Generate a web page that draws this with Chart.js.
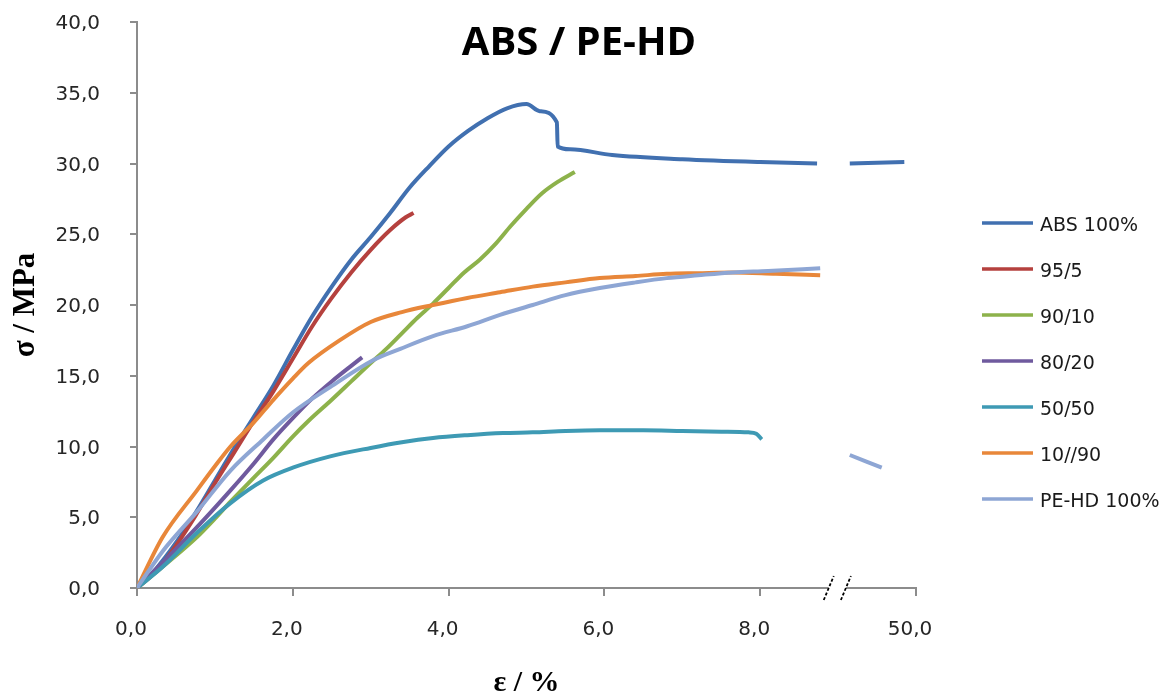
<!DOCTYPE html>
<html>
<head>
<meta charset="utf-8">
<title>ABS / PE-HD</title>
<script src="https://cdn.jsdelivr.net/npm/chart.js@4"></script>
<style>
  html, body { margin: 0; padding: 0; background: #fff; }
  canvas { display: block; }
</style>
</head>
<body>
<canvas id="stressChart" width="1172" height="696"></canvas>
<script>
const chartTitle = 'ABS / PE-HD';
const seriesNames = ['ABS 100%', '95/5', '90/10', '80/20', '50/50', '10//90', 'PE-HD 100%'];
const seriesColors = ['#4170b0', '#b5413e', '#8db24b', '#6f5a9e', '#3e9ab4', '#e8873a', '#8ea6d4'];

// strain (linear units, 10 = the "50,0" tick after the axis break) / stress in MPa
const absX = [0, 0.25, 0.5, 0.75, 1.0, 1.25, 1.5, 1.75, 2.0, 2.25, 2.5, 2.75, 3.0, 3.25, 3.5, 3.75, 4.0, 4.25, 4.5, 4.75, 5.0, 5.17, 5.39, 5.40, 5.56, 6.1, 7.0, 8.0, 8.73, 8.95, 9.15, 9.85];
const absY = [0, 1.4, 3.2, 5.3, 7.6, 9.9, 12.1, 14.3, 16.8, 19.2, 21.3, 23.2, 24.8, 26.5, 28.3, 29.8, 31.2, 32.3, 33.2, 33.9, 34.2, 33.7, 32.9, 31.2, 31.0, 30.6, 30.3, 30.1, 30.0, null, 30.0, 30.1];

const b95X = [0, 0.25, 0.5, 0.75, 1.0, 1.25, 1.5, 1.75, 2.0, 2.25, 2.5, 2.75, 3.0, 3.25, 3.45, 3.55];
const b95Y = [0, 1.2, 3.0, 5.1, 7.4, 9.6, 11.8, 13.9, 16.2, 18.5, 20.5, 22.3, 23.9, 25.3, 26.2, 26.5];

const b90X = [0, 0.33, 0.77, 1.0, 1.2, 1.5, 1.75, 2.0, 2.2, 2.5, 2.75, 3.0, 3.2, 3.4, 3.6, 3.8, 4.0, 4.2, 4.4, 4.6, 4.8, 5.0, 5.2, 5.4, 5.62];
const b90Y = [0, 1.5, 3.6, 4.9, 6.1, 7.8, 9.2, 10.7, 11.8, 13.3, 14.6, 15.9, 16.9, 18.0, 19.1, 20.1, 21.2, 22.3, 23.2, 24.3, 25.6, 26.8, 27.9, 28.7, 29.4];

const b80X = [0, 0.33, 0.77, 1.2, 1.5, 1.75, 2.0, 2.25, 2.5, 2.75, 2.89];
const b80Y = [0, 1.8, 4.3, 6.9, 8.8, 10.5, 12.0, 13.4, 14.6, 15.7, 16.3];

const b50X = [0, 0.33, 0.77, 1.2, 1.62, 2.0, 2.48, 3.0, 3.4, 3.8, 4.24, 4.7, 5.08, 5.5, 5.94, 6.5, 7.0, 7.5, 7.85, 7.95, 8.02];
const b50Y = [0, 1.5, 3.9, 6.0, 7.6, 8.5, 9.3, 9.9, 10.3, 10.6, 10.8, 10.95, 11.0, 11.1, 11.15, 11.15, 11.1, 11.05, 11.0, 10.9, 10.5];

const b10X = [0, 0.33, 0.77, 1.0, 1.2, 1.5, 1.75, 2.0, 2.2, 2.6, 3.0, 3.4, 3.8, 4.24, 4.66, 5.08, 5.5, 5.94, 6.4, 6.8, 7.2, 7.65, 8.2, 8.77];
const b10Y = [0, 3.6, 6.9, 8.6, 10.0, 11.7, 13.3, 14.8, 15.9, 17.5, 18.8, 19.5, 20.0, 20.5, 20.9, 21.3, 21.6, 21.9, 22.05, 22.2, 22.25, 22.3, 22.2, 22.1];

const peX = [0, 0.33, 0.77, 1.2, 1.62, 2.0, 2.48, 3.03, 3.38, 3.8, 4.24, 4.66, 5.08, 5.5, 5.94, 6.4, 6.8, 7.2, 7.65, 8.1, 8.77, 8.95, 9.15, 9.56];
const peY = [0, 2.6, 5.4, 8.3, 10.5, 12.4, 14.2, 16.1, 16.9, 17.8, 18.5, 19.3, 20.0, 20.7, 21.2, 21.6, 21.9, 22.1, 22.3, 22.4, 22.6, null, 9.4, 8.5];

const yTicks = [0, 5, 10, 15, 20, 25, 30, 35, 40];
const xTicks = [0, 2, 4, 6, 8, 10];
const xTickLabels = ['0,0', '2,0', '4,0', '6,0', '8,0', '50,0'];

const seriesX = [absX, b95X, b90X, b80X, b50X, b10X, peX];
const seriesY = [absY, b95Y, b90Y, b80Y, b50Y, b10Y, peY];

function toPoints(xs, ys) {
  return xs.map((x, i) => ({ x: x, y: ys[i] }));
}

const datasets = seriesNames.map((name, i) => ({
  label: name,
  data: toPoints(seriesX[i], seriesY[i]),
  borderColor: seriesColors[i],
  backgroundColor: seriesColors[i],
  order: seriesNames.length - i
}));

const axisColor = '#8c8c8c';
const tickFont = { family: 'DejaVu Sans', size: 20 };

// title, axis break and legend drawn on top of the chart
const decorations = {
  id: 'decorations',
  afterDraw(chart) {
    const ctx = chart.ctx;
    const xs = chart.scales.x;
    const yAxis = chart.chartArea.bottom;
    ctx.save();

    ctx.font = 'bold 40px "Open Sans"';
    ctx.fillStyle = '#000';
    ctx.textAlign = 'center';
    ctx.textBaseline = 'alphabetic';
    ctx.fillText(chartTitle, 579, 55);

    const b1 = xs.getPixelForValue(8.88), b2 = xs.getPixelForValue(9.1);
    ctx.fillStyle = '#fff';
    ctx.fillRect(b1, yAxis - 3, b2 - b1, 6);
    ctx.strokeStyle = '#000';
    ctx.lineWidth = 1.8;
    ctx.setLineDash([3, 2]);
    [b1, b2].forEach(p => {
      ctx.beginPath();
      ctx.moveTo(p - 5, yAxis + 12);
      ctx.lineTo(p + 5, yAxis - 12);
      ctx.stroke();
    });
    ctx.setLineDash([]);

    ctx.font = '19px "DejaVu Sans"';
    ctx.textAlign = 'left';
    chart.data.datasets.forEach((ds, i) => {
      const ly = 223 + i * 46;
      ctx.strokeStyle = ds.borderColor;
      ctx.lineWidth = 3.5;
      ctx.beginPath();
      ctx.moveTo(982, ly);
      ctx.lineTo(1033, ly);
      ctx.stroke();
      ctx.fillStyle = '#1a1a1a';
      ctx.fillText(ds.label, 1040, ly + 8);
    });
    ctx.restore();
  }
};

new Chart(document.getElementById('stressChart').getContext('2d'), {
  type: 'line',
  data: { datasets: datasets },
  plugins: [decorations],
  options: {
    responsive: false,
    animation: false,
    layout: { padding: { top: 22, right: 256, left: 0, bottom: 0 } },
    plugins: {
      legend: { display: false },
      tooltip: { enabled: false }
    },
    elements: {
      point: { radius: 0 },
      line: { borderWidth: 4, cubicInterpolationMode: 'monotone' }
    },
    scales: {
      x: {
        type: 'linear',
        min: 0,
        max: 10,
        afterBuildTicks: s => { s.ticks = xTicks.map(v => ({ value: v })); },
        afterFit: s => { s.height = 108; },
        ticks: {
          callback: v => xTickLabels[xTicks.indexOf(v)],
          font: tickFont,
          color: '#262626',
          padding: 22,
          labelOffset: -6,
          maxRotation: 0
        },
        grid: { drawOnChartArea: false, tickLength: 8, color: axisColor, lineWidth: 2 },
        border: { color: axisColor, width: 2 },
        title: {
          display: true,
          text: 'ε / %',
          font: { family: 'Liberation Serif', size: 30, weight: 'bold', lineHeight: 1 },
          color: '#000',
          padding: { top: 0, bottom: -2 }
        }
      },
      y: {
        min: 0,
        max: 40,
        afterBuildTicks: s => { s.ticks = yTicks.map(v => ({ value: v })); },
        afterFit: s => { s.width = 137; s.paddingTop = 0; s.paddingBottom = 0; },
        ticks: {
          callback: v => v.toFixed(1).replace('.', ','),
          font: tickFont,
          color: '#262626',
          padding: 30,
          labelOffset: 2
        },
        grid: { drawOnChartArea: false, tickLength: 7, color: axisColor, lineWidth: 2 },
        border: { color: axisColor, width: 2 },
        title: {
          display: true,
          text: 'σ / MPa',
          font: { family: 'Liberation Serif', size: 31, weight: 'bold', lineHeight: 1 },
          color: '#000',
          padding: { top: 10, bottom: 0 }
        }
      }
    }
  }
});
</script>
</body>
</html>
